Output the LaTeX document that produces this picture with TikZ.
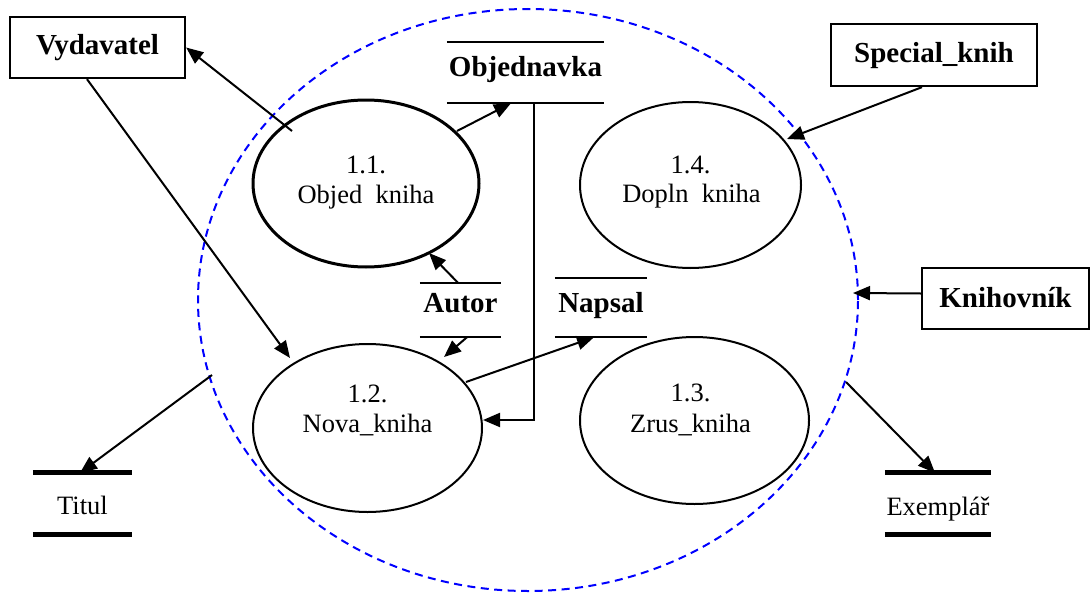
\documentclass[tikz,border=0pt]{standalone}
\usepackage{fontspec}
\setmainfont{Liberation Serif}
\usetikzlibrary{shapes.geometric,arrows.meta,calc}
\begin{document}
\begin{tikzpicture}[x=1pt,y=-1pt,
  flow/.style={line width=2pt,-{Triangle[length=17pt,width=14pt]}},
  extbox/.style={draw,line width=2.3pt,inner sep=0pt,text depth=0pt,
    font=\fontsize{29}{34}\selectfont\bfseries},
  proc/.style={ellipse,draw,line width=2pt,inner sep=0pt},
  plabel/.style={anchor=base,inner sep=0pt,font=\fontsize{26.5}{31}\selectfont},
  storebox/.style={inner sep=0pt,text depth=0pt},
  storebold/.style={storebox,font=\fontsize{29}{34}\selectfont\bfseries},
  storeplain/.style={storebox,font=\fontsize{26.5}{31}\selectfont},
  storeline/.style={line width=2.5pt},
  heavyline/.style={line width=5pt},
  boundary/.style={ellipse,draw=blue,line width=2pt,dash pattern=on 8pt off 5.5pt,inner sep=0pt}
]
\useasboundingbox (0,0) rectangle (1092,594);

% system boundary
\node[boundary,minimum width=660pt,minimum height=582pt] (bnd) at (528,300) {};

% external entities
\node[extbox,minimum width=175pt,minimum height=61pt,text height=15pt] (vyd) at (97.5,47.5) {Vydavatel};
\node[extbox,minimum width=206pt,minimum height=62pt,text height=16pt] (spec) at (934,55) {Special\_knih};
\node[extbox,minimum width=167pt,minimum height=61pt,text height=17pt] (knih) at (1005.5,298.5) {Knihovník};

% processes
\node[proc,line width=3pt,minimum width=226pt,minimum height=167pt] (p11) at (366,183.5) {};
\node[proc,minimum width=229pt,minimum height=168pt] (p12) at (367.5,428) {};
\node[proc,minimum width=229pt,minimum height=167pt] (p13) at (694.5,420.5) {};
\node[proc,minimum width=221pt,minimum height=166pt] (p14) at (690.5,185) {};

\node[plabel] (t11a) at ($(p11.center)+(0,-10.5)$) {1.1.};
\node[plabel] (t11b) at ($(p11.center)+(0,19.5)$) {Objed\hphantom{\_}kniha};
\node[plabel] (t12a) at ($(p12.center)+(0,-26)$) {1.2.};
\node[plabel] (t12b) at ($(p12.center)+(0,4)$) {Nova\_kniha};
\node[plabel] (t13a) at ($(p13.center)+(-4,-19.5)$) {1.3.};
\node[plabel] (t13b) at ($(p13.center)+(-4,11.5)$) {Zrus\_kniha};
\node[plabel] (t14a) at ($(p14.center)+(0,-12)$) {1.4.};
\node[plabel] (t14b) at ($(p14.center)+(1,17)$) {Dopln\hphantom{\_}kniha};

% data stores
\node[storebold,minimum width=157pt,minimum height=61pt,text height=9pt] (objd) at (525.5,72.5) {Objednavka};
\node[storebold,minimum width=81pt,minimum height=54pt,text height=4pt] (autor) at (460.5,310) {Autor};
\node[storebold,minimum width=92pt,minimum height=59pt,text height=9pt] (napsal) at (601,307.5) {Napsal};
\node[storeplain,minimum width=99pt,minimum height=61pt,text height=21pt] (titul) at (82.5,503.5) {Titul};
\node[storeplain,minimum width=106pt,minimum height=61pt,text height=23pt] (exem) at (938,503.5) {Exemplář};

\foreach \s in {objd,autor,napsal}{
  \draw[storeline] (\s.north west) -- (\s.north east);
  \draw[storeline] (\s.south west) -- (\s.south east);
}
\foreach \s in {titul,exem}{
  \draw[heavyline] (\s.north west) -- (\s.north east);
  \draw[heavyline] (\s.south west) -- (\s.south east);
}

% data flows
\draw[flow] ($(p11.center)+(-74,-52.5)$) -- (vyd.east);
\draw[flow] ($(vyd.south)+(-10.5,0)$) -- ($(p12.center)+(-77.5,-70)$);
\draw[flow] ($(p11.center)+(91,-52.5)$) -- ($(objd.south)+(-14.5,0)$);
\draw[flow] ($(objd.south)+(8.5,0)$) |- ($(p12.center)+(115.5,-8)$);
\draw[flow] ($(autor.north)+(-2.5,0)$) -- ($(p11.center)+(63,69.5)$);
\draw[flow] ($(autor.south)+(6.5,0)$) -- ($(p12.center)+(76.5,-71)$);
\draw[flow] ($(p12.center)+(98.5,-46)$) -- ($(napsal.south)+(-7,0)$);
\draw[flow] ($(spec.south)+(-12,0)$) -- ($(p14.center)+(96.5,-46)$);
\draw[flow] ($(knih.west)+(0,-5)$) -- ($(bnd.center)+(325,-7)$);
\draw[flow] ($(bnd.center)+(-316,75)$) -- ($(titul.north)+(-2.5,0)$);
\draw[flow] ($(bnd.center)+(318,82)$) -- ($(exem.north)+(-3,0)$);
\end{tikzpicture}
\end{document}
